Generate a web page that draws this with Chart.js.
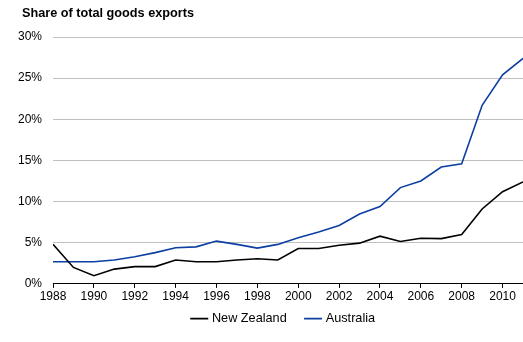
<!DOCTYPE html>
<html>
<head>
<meta charset="utf-8">
<script src="https://cdn.jsdelivr.net/npm/chart.js@4"></script>
<style>
  html, body { margin: 0; padding: 0; background: #fff; }
  #wrap { width: 523px; height: 342px; }
</style>
</head>
<body>
<div id="wrap"><canvas id="exportsChart" width="523" height="342"></canvas></div>
<script>
const years = [1988, 1989, 1990, 1991, 1992, 1993, 1994, 1995, 1996, 1997, 1998, 1999,
               2000, 2001, 2002, 2003, 2004, 2005, 2006, 2007, 2008, 2009, 2010, 2011];
const newZealand = [4.8, 2.0, 1.0, 1.8, 2.1, 2.1, 2.9, 2.7, 2.7, 2.9, 3.05, 2.9,
                    4.3, 4.3, 4.7, 4.95, 5.8, 5.15, 5.55, 5.5, 6.0, 9.1, 11.2, 12.4];
const australia = [2.7, 2.7, 2.7, 2.9, 3.3, 3.8, 4.4, 4.5, 5.2, 4.8, 4.35, 4.8,
                   5.6, 6.3, 7.1, 8.5, 9.4, 11.7, 12.5, 14.2, 14.6, 21.7, 25.4, 27.4];
const yTicks = [0, 5, 10, 15, 20, 25, 30];

const font = { family: "'Liberation Sans', Arial, sans-serif", size: 12 };
const squeeze = 14; // x axis box shrunk by this so the wide legend padding fits

// axis caption above the plot
const caption = {
  id: "caption",
  afterLayout(chart) {
    // give the tick labels their clip room back
    chart.scales.x.bottom += squeeze;
    // legend sits centred under the plot rather than the canvas
    chart.legend.left += 38;
  },
  afterDraw(chart) {
    const ctx = chart.ctx;
    ctx.save();
    ctx.font = "bold 12.7px 'Liberation Sans', Arial, sans-serif";
    ctx.fillStyle = "#000";
    ctx.textBaseline = "middle";
    ctx.fillText("Share of total goods exports", 22, 13);
    ctx.restore();
  }
};

const toPoints = vals => years.map((yr, i) => ({ x: yr, y: vals[i] }));

new Chart(document.getElementById("exportsChart").getContext("2d"), {
  type: "line",
  data: {
    datasets: [
      { label: "New Zealand", data: toPoints(newZealand), borderColor: "#000000", backgroundColor: "#000000",
        borderWidth: 1.6, pointRadius: 0, tension: 0 },
      { label: "Australia", data: toPoints(australia), borderColor: "#0D3FA3", backgroundColor: "#0D3FA3",
        borderWidth: 1.6, pointRadius: 0, tension: 0 }
    ]
  },
  options: {
    responsive: false,
    animation: false,
    layout: { padding: { top: 37, left: 7, right: 0, bottom: 7 } },
    plugins: {
      legend: {
        position: "bottom",
        labels: { usePointStyle: true, pointStyle: "line", boxWidth: 14, color: "#000",
                  font: { family: font.family, size: 12.7 }, padding: 20 }
      },
      tooltip: { enabled: false }
    },
    scales: {
      x: {
        type: "linear",
        min: 1988,
        max: 2011,
        afterBuildTicks: scale => {
          scale.ticks = years.filter(y => y % 2 === 0 && y <= 2010).map(v => ({ value: v }));
        },
        afterFit: scale => { scale.height -= squeeze; },
        ticks: { color: "#000", font: font, maxRotation: 0, padding: 2, callback: v => String(v) },
        grid: { drawOnChartArea: false, tickLength: 4, color: "#000" },
        border: { color: "#000", width: 1 }
      },
      y: {
        min: 0,
        max: 30,
        afterBuildTicks: scale => { scale.ticks = yTicks.map(v => ({ value: v })); },
        ticks: { color: "#000", font: font, padding: 11, callback: v => v + "%" },
        grid: { color: "#c0c0c0", drawTicks: false },
        border: { display: false }
      }
    }
  },
  plugins: [caption]
});
</script>
</body>
</html>
